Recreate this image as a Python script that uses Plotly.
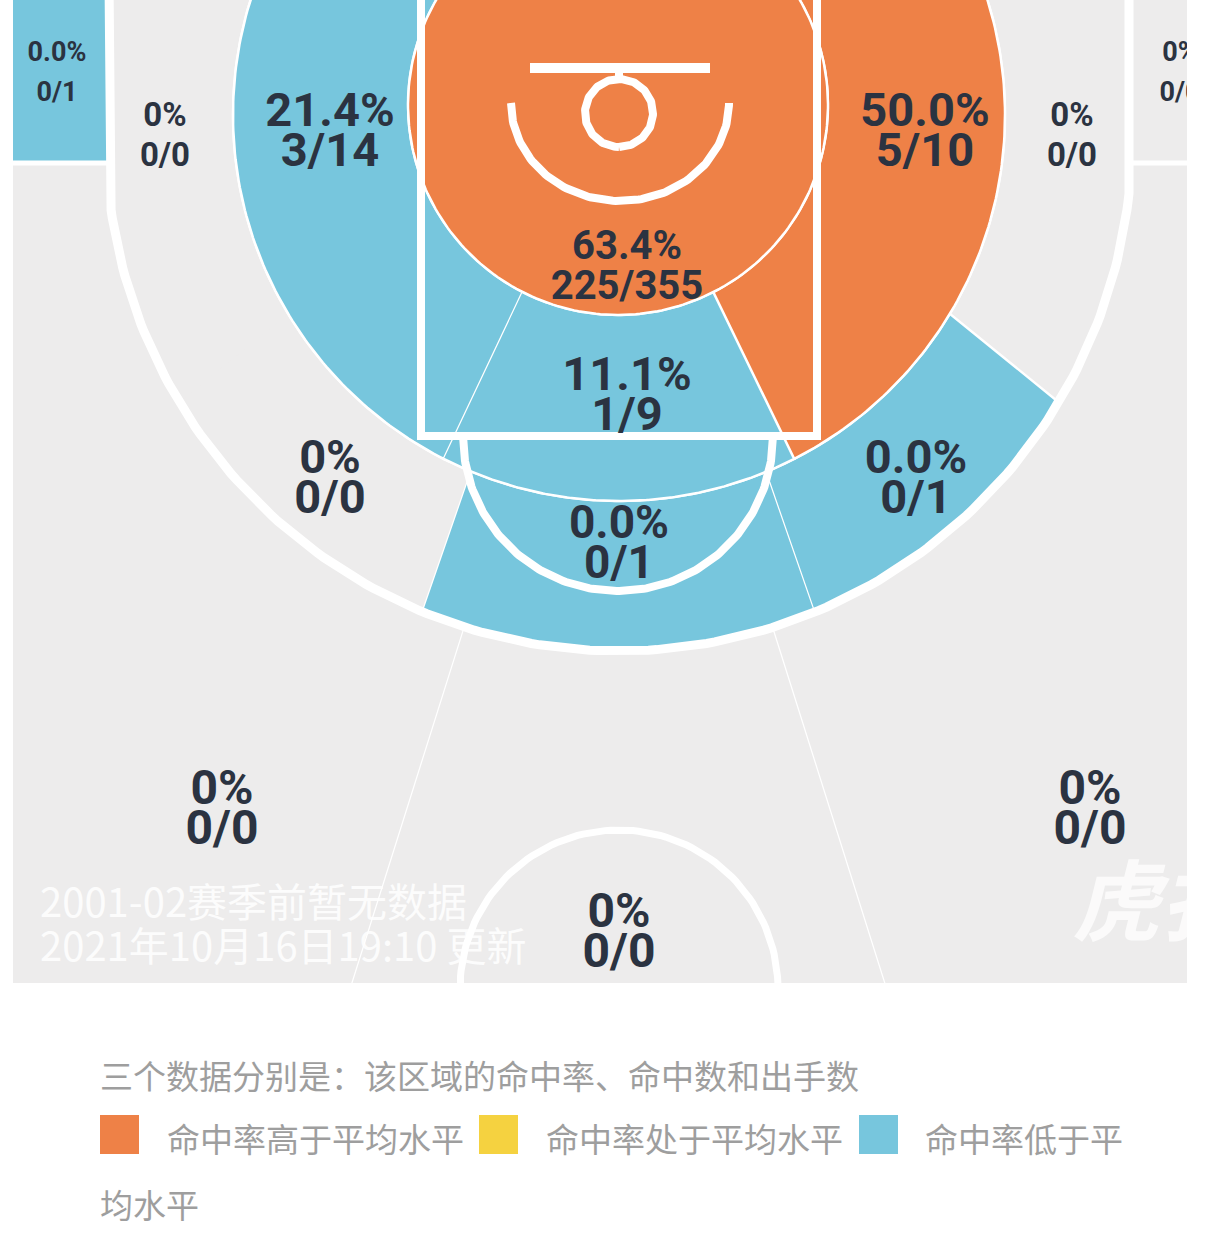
import numpy as np
import plotly.graph_objects as go

# ----------------------------- data -----------------------------
zones = ["restricted", "paint", "mid_left", "mid_right",
         "long_center", "long_left", "long_right", "long_left_top", "long_right_top",
         "corner_left", "corner_right", "three_left", "three_center", "three_right"]
made = [225, 1, 3, 5, 0, 0, 0, 0, 0, 0, 0, 0, 0, 0]
attempts = [355, 9, 14, 10, 1, 0, 1, 0, 0, 1, 0, 0, 0, 0]
level = ["high", "low", "low", "high", "low", "none", "low", "none", "none",
         "low", "none", "none", "none", "none"]

legend_levels = ["high", "avg", "low"]
legend_labels = ["命中率高于平均水平", "命中率处于平均水平", "命中率低于平均水平"]
note_text = "三个数据分别是：该区域的命中率、命中数和出手数"
overlay_lines = ["2001-02赛季前暂无数据", "2021年10月16日19:10 更新"]
watermark = "虎扑"

# ----------------------------- style / geometry -----------------------------
COLORS = {"high": "#EE8147", "avg": "#F5D240", "low": "#77C6DD", "none": "#EDECEC"}
BG = "#EDECEC"
INK = "#2B3341"
W, H = 1219, 1240
X0, X1, Y0, Y1 = 13, 1187, 0, 983          # visible court window (px)

RA = (618, 105, 210)        # restricted zone circle
INNER = (619, 115, 386)     # inner mid-range ring
THREE = (619, 138, 513)     # three point arc
CORNER_L, CORNER_R, CORNER_Y = 109, 1129, 163
A_PAINT, A_LONG, A_SIDE, A_WING = 27, 22.5, 59, 17.5
TH_C = np.degrees(np.arcsin((CORNER_R - THREE[0]) / THREE[2]))


def pt(c, th):
    cx, cy, r = c
    t = np.radians(th)
    return cx + r * np.sin(t), cy + r * np.cos(t)


def arc(c, a0, a1, n=180):
    th = np.linspace(a0, a1, n)
    x, y = pt(c, th)
    return list(x), list(y)


def ring(inner, outer, a0, a1):
    ox, oy = arc(outer, a0, a1)
    ix, iy = arc(inner, a1, a0)
    return ox + ix, oy + iy


def side_top(sign):
    ox, oy = arc(THREE, sign * A_SIDE, sign * TH_C)
    cxl = CORNER_L if sign < 0 else CORNER_R
    ox += [cxl, THREE[0]]
    oy += [-300, -300]
    ix, iy = arc(INNER, sign * 180, sign * A_SIDE)
    return ox + ix, oy + iy


def ray_x(th, y):
    return THREE[0] + (y - THREE[1]) * np.tan(np.radians(th))


YB = Y1 + 60
geom = {
    "restricted": arc(RA, 0, 360, 300),
    "paint": ring(RA, INNER, -A_PAINT, A_PAINT),
    "mid_left": ring(RA, INNER, -180, -A_PAINT),
    "mid_right": ring(RA, INNER, A_PAINT, 180),
    "long_center": ring(INNER, THREE, -A_LONG, A_LONG),
    "long_left": ring(INNER, THREE, -A_SIDE, -A_LONG),
    "long_right": ring(INNER, THREE, A_LONG, A_SIDE),
    "long_left_top": side_top(-1),
    "long_right_top": side_top(1),
    "corner_left": ([X0 - 30, CORNER_L, CORNER_L, X0 - 30], [-50, -50, CORNER_Y, CORNER_Y]),
    "corner_right": ([CORNER_R, X1 + 80, X1 + 80, CORNER_R], [-50, -50, CORNER_Y, CORNER_Y]),
}
ax_, ay_ = arc(THREE, -TH_C, -A_WING)
geom["three_left"] = ([X0 - 30, CORNER_L] + ax_ + [ray_x(-A_WING, YB), X0 - 30],
                      [CORNER_Y, CORNER_Y] + ay_ + [YB, YB])
ax_, ay_ = arc(THREE, -A_WING, A_WING)
geom["three_center"] = (ax_ + [ray_x(A_WING, YB), ray_x(-A_WING, YB)], ay_ + [YB, YB])
ax_, ay_ = arc(THREE, A_WING, TH_C)
geom["three_right"] = (ax_ + [CORNER_R, X1 + 80, X1 + 80, ray_x(A_WING, YB)],
                       ay_ + [CORNER_Y, CORNER_Y, YB, YB])

# label anchor (x, y) and font size per zone
LABEL = {
    "restricted": (627, 269, 40), "paint": (627, 398, 47),
    "mid_left": (330, 134, 47), "mid_right": (925, 134, 47),
    "long_center": (619, 546, 46), "long_left": (330, 481, 47), "long_right": (916, 481, 47),
    "long_left_top": (165, 138, 33), "long_right_top": (1072, 138, 33),
    "corner_left": (57, 74, 27), "corner_right": (1180, 74, 27),
    "three_left": (222, 812, 48), "three_center": (619, 935, 48), "three_right": (1090, 812, 48),
}
DRAW_ORDER = ["three_left", "three_center", "three_right", "corner_left", "corner_right",
              "long_left_top", "long_right_top", "long_left", "long_center", "long_right",
              "mid_left", "mid_right", "paint", "restricted"]

fig = go.Figure()
idx = {z: i for i, z in enumerate(zones)}
for z in DRAW_ORDER:
    i = idx[z]
    xs, ys = geom[z]
    fig.add_trace(go.Scatter(x=xs, y=ys, mode="lines", fill="toself",
                             fillcolor=COLORS[level[i]],
                             line=dict(color="white", width=2.5),
                             hoverinfo="skip", showlegend=False))

# ----------------------------- court lines -----------------------------
def line(xs, ys, w):
    fig.add_trace(go.Scatter(x=list(xs), y=list(ys), mode="lines",
                             line=dict(color="white", width=w),
                             hoverinfo="skip", showlegend=False))

# paint
line([421, 421, 817, 817], [-20, 436, 436, -20], 8)
# free throw lower half circle
fx, fy = arc((618, 436, 155), -90, 90)
line(fx, fy, 8)
# restricted arc (slightly flattened)
th = np.radians(np.linspace(-90, 90, 120))
line(620 + 109 * np.sin(th), 103 + 98 * np.cos(th), 8)
# hoop, backboard, stem
hx, hy = arc((619, 113, 34), 0, 360)
line(hx, hy, 8)
line([530, 710], [68, 68], 10)
line([619, 619], [68, 80], 8)
# three point line
tx, ty = arc(THREE, -TH_C, TH_C)
line([CORNER_L] + tx + [CORNER_R], [-20] + ty + [-20], 9)
# corner separators
line([X0 - 30, CORNER_L], [CORNER_Y, CORNER_Y], 5)
line([CORNER_R, X1 + 80], [CORNER_Y, CORNER_Y], 5)
# half court circle
cx_, cy_ = arc((619, 989, 159), 0, 360)
line(cx_, cy_, 7)

# ----------------------------- zone labels -----------------------------
for z in zones:
    i = idx[z]
    m, a = made[i], attempts[i]
    pct = "0%" if a == 0 else f"{100 * m / a:.1f}%"
    frac = f"{m}/{a}"
    lx, ly, fs = LABEL[z]
    fig.add_trace(go.Scatter(x=[lx, lx], y=[ly - 20, ly + 20], mode="text",
                             text=[pct, frac], textposition="middle center",
                             textfont=dict(family="Roboto", size=fs, color=INK, weight="bold"),
                             cliponaxis=True, hoverinfo="skip", showlegend=False))

# watermark (clipped at court edge)
fig.add_trace(go.Scatter(x=[1072], y=[912], mode="text", text=[watermark],
                         textposition="middle right",
                         textfont=dict(family="Noto Sans CJK SC", size=88,
                                       color="rgba(255,255,255,0.75)", weight="bold",
                                       style="italic"),
                         cliponaxis=True, hoverinfo="skip", showlegend=False))


# ----------------------------- annotations / legend -----------------------------
def px(x):
    return (x - X0) / (X1 - X0)


def py(y):
    return 1 - (y - Y0) / (Y1 - Y0)


ann = []
for k, t in enumerate(overlay_lines):
    ann.append(dict(x=px(38), y=py(900 + 44 * k), xref="paper", yref="paper",
                    text=t, showarrow=False, xanchor="left", yanchor="middle",
                    font=dict(family="Noto Sans CJK SC", size=40,
                              color="rgba(255,255,255,0.85)")))

LEG_FONT = dict(family="Noto Sans CJK SC", size=33, color="#9E9E9E")
ann.append(dict(x=px(98), y=py(1075), xref="paper", yref="paper", text=note_text,
                showarrow=False, xanchor="left", yanchor="middle", font=LEG_FONT))

shapes = []
sq_x = [100, 479, 859]
txt_x = [165, 544, 923]
for k, (lv, lab) in enumerate(zip(legend_levels, legend_labels)):
    shapes.append(dict(type="rect", xref="paper", yref="paper",
                       x0=px(sq_x[k]), x1=px(sq_x[k] + 39), y0=py(1154), y1=py(1115),
                       fillcolor=COLORS[lv], line=dict(width=0)))
    first = lab if k < 2 else lab[:6]
    ann.append(dict(x=px(txt_x[k]), y=py(1138), xref="paper", yref="paper", text=first,
                    showarrow=False, xanchor="left", yanchor="middle", font=LEG_FONT))
    if k == 2:
        ann.append(dict(x=px(98), y=py(1204), xref="paper", yref="paper", text=lab[6:],
                        showarrow=False, xanchor="left", yanchor="middle", font=LEG_FONT))

fig.update_layout(
    width=W, height=H,
    margin=dict(l=X0, r=W - X1, t=Y0, b=H - Y1, pad=0, autoexpand=False),
    paper_bgcolor="white", plot_bgcolor=BG,
    xaxis=dict(range=[X0, X1], visible=False, showgrid=False, zeroline=False, fixedrange=True),
    yaxis=dict(range=[Y1, Y0], visible=False, showgrid=False, zeroline=False, fixedrange=True),
    annotations=ann, shapes=shapes, showlegend=False,
)

fig.write_html("out.html", config={"displayModeBar": False})
